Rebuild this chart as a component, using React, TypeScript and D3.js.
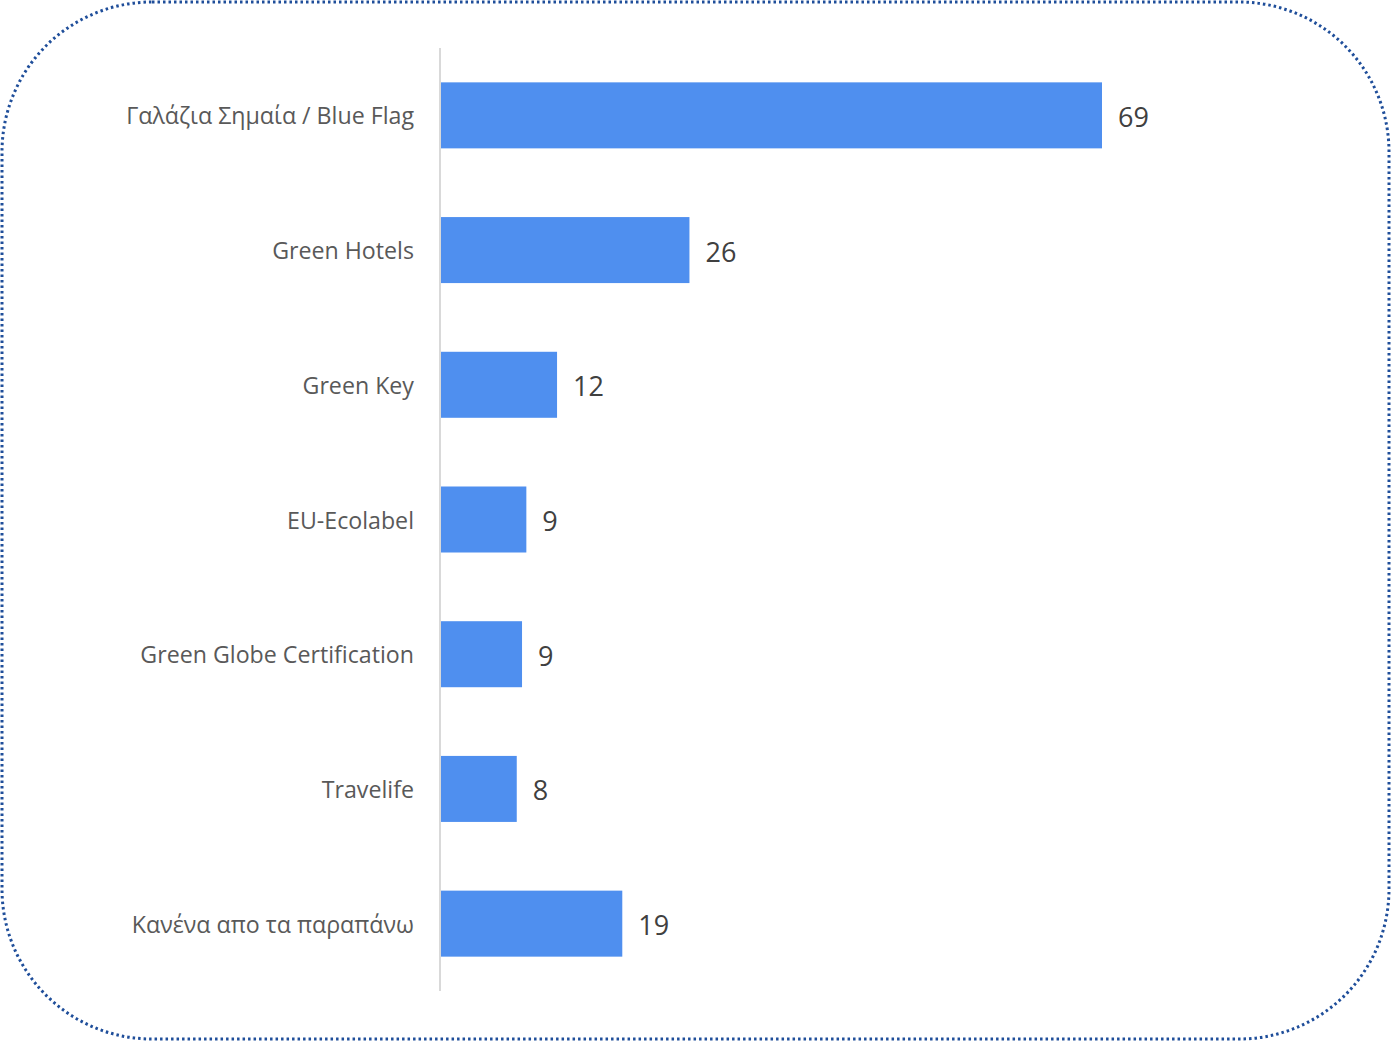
import React from "react";
import * as d3 from "d3";

const categories = [
  "Γαλάζια Σημαία / Blue Flag",
  "Green Hotels",
  "Green Key",
  "EU-Ecolabel",
  "Green Globe Certification",
  "Travelife",
  "Κανένα απο τα παραπάνω",
];
const values = [69, 26, 12.2, 9, 8.55, 8, 19];
const valueLabels = ["69", "26", "12", "9", "9", "8", "19"];

const W = 1392;
const H = 1042;

export default function App() {
  const x0 = 440;
  const xScale = d3.scaleLinear().domain([0, 69]).range([x0, 1102]);
  const yScale = d3
    .scaleBand<string>()
    .domain(categories)
    .range([48, 991])
    .paddingInner(0.51)
    .paddingOuter(0.255);
  const bw = yScale.bandwidth();
  return (
    <svg
      width={W}
      height={H}
      style={{ position: "absolute", left: 0, top: 0, display: "block" }}
      fontFamily="'Open Sans', sans-serif"
    >
      <rect x={0} y={0} width={W} height={H} fill="#ffffff" />
      <rect
        x={2}
        y={2}
        width={1387}
        height={1037}
        rx={150}
        ry={150}
        fill="none"
        stroke="#1F4E9A"
        strokeWidth={3}
        strokeDasharray="2.5 3"
      />
      {categories.map((c, i) => {
        const y = yScale(c)!;
        const xe = xScale(values[i]);
        return (
          <g key={c}>
            <rect x={x0} y={y} width={xe - x0} height={bw} fill="#4F8FEF" />
            <text
              x={414}
              y={y + bw / 2}
              textAnchor="end"
              dominantBaseline="central"
              fontSize={23.2}
              fill="#595959"
            >
              {c}
            </text>
            <text
              x={xe + 16}
              y={y + bw / 2 + 1}
              dominantBaseline="central"
              fontSize={27}
              fill="#404040"
            >
              {valueLabels[i]}
            </text>
          </g>
        );
      })}
      <line x1={x0} x2={x0} y1={48} y2={991} stroke="#D9D9D9" strokeWidth={2} />
    </svg>
  );
}
